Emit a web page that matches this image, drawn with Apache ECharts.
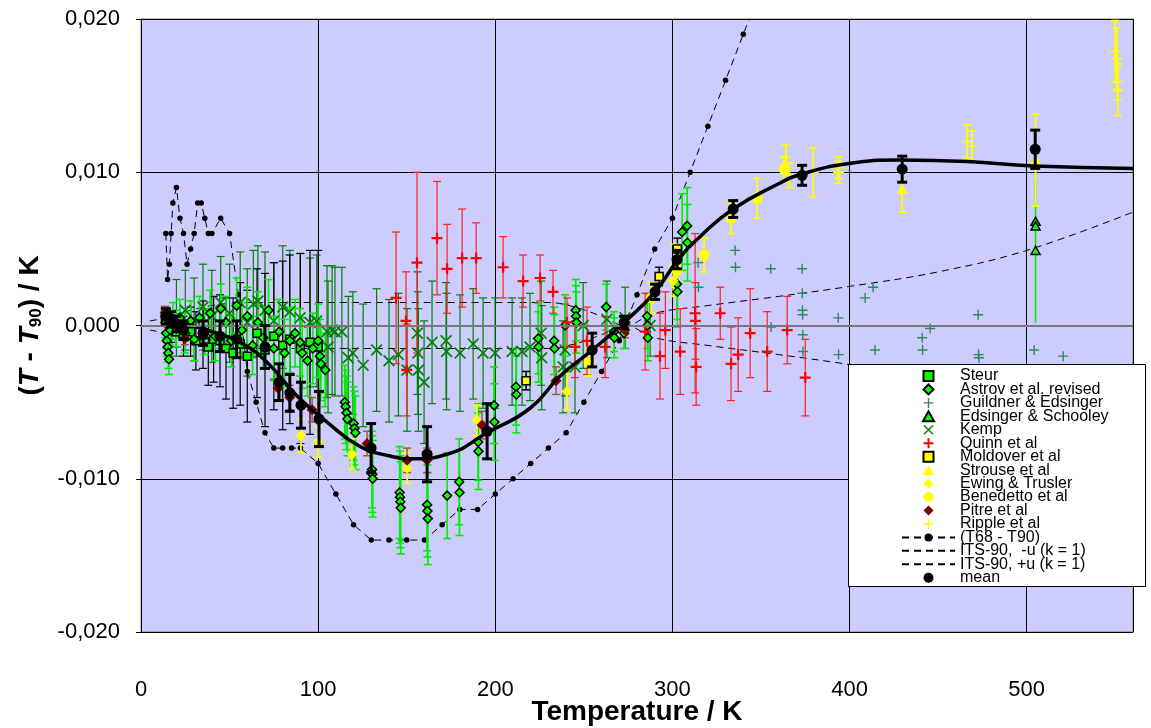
<!DOCTYPE html>
<html><head><meta charset="utf-8">
<script src="https://cdn.jsdelivr.net/npm/echarts@6/dist/echarts.min.js"></script>
<style>html,body{margin:0;padding:0;background:#fff}#c{width:1151px;height:728px}</style>
</head><body><div id="c"></div>
<script>
// values in mK ( (T - T90) * 1000 ), rows: [T / K, value, standard uncertainty]
const yTickLabels = ['-0,020', '-0,010', '0,000', '0,010', '0,020'];

const steur = [
  [13.8,0.6,0.6],[15,0.2,0.6],[17,-0.3,0.8],[20,-0.4,1.0],[24,-0.7,1.3],[28,-0.4,1.6],[31,-1.0,1.9],
  [35,-0.6,2.2],[38,-1.4,2.5],[41,-0.9,2.8],[44.6,-1.0,3.0],[48,-1.5,3.3],[52,-1.8,3.6],[56,-1.2,4.0],
  [60,-2.0,4.3],[65.5,-0.5,4.2],[70,-1.6,5.0],[75,-0.7,4.8],[80,-1.3,5.5],[84,-0.9,5.5],[90,-1.5,6.2],
  [95.4,-1.1,6.0],[100,-1.4,6.3]
];
const astrov = [
  [13.8,0.2,1.0],[14.2,-0.5,1.0],[14.6,-1.0,1.0],[15,-1.4,1.0],[15.4,-1.8,1.0],[15.8,-2.2,1.0],
  [16.5,-0.3,1.0],[18,0.3,1.2],[20,-0.2,1.2],[22,0.5,1.2],[25,-0.5,1.3],[28,0.3,1.3],[30,-0.9,1.4],
  [33,0.5,1.4],[36,-0.4,1.5],[39,0.8,1.5],[42,-0.7,1.6],[45,1.1,1.6],[48,0.2,1.7],[51,-1.0,1.7],
  [54,1.3,1.8],[57,-0.3,1.8],[60,0.6,1.9],[63,-1.3,1.9],[66,0.2,2.0],[69,-0.8,2.0],[72,1.0,2.0],
  [75,-1.5,2.1],[78,-0.4,2.1],[81,-1.8,2.2],[84,-1.0,2.2],[87,-0.5,2.2],[89.8,-1.1,2.2],[91,-1.8,2.3],
  [94,-2.3,2.3],[97,-1.5,2.3],[100,-1.0,2.4],[101,-2.0,2.4],[101.5,-2.5,2.4],[104,-2.9,2.4],
  [115,-5.0,2.4],[115.5,-5.3,2.4],[116,-5.7,2.4],[116.5,-6.1,2.4],[120,-6.4,2.4],[120.5,-6.7,2.4],
  [121,-7.0,2.4],[130.4,-9.4,2.5],[130.6,-9.7,2.5],[130.8,-10.0,2.5],[146,-10.9,3.0],[146.2,-11.2,3.0],
  [146.4,-11.5,3.0],[146.6,-11.9,3.0],[161.5,-11.7,3.0],[161.7,-12.1,3.0],[161.9,-12.6,3.0],
  [172.8,-11.1,2.8],[179.6,-10.2,2.8],[179.8,-10.9,2.8],[190.3,-7.6,2.5],[190.5,-8.2,2.5],
  [199.3,-5.2,2.5],[199.5,-6.3,2.5],[211.7,-4.0,2.5],[211.9,-4.5,2.5],[224.2,-0.85,2.3],[224.4,-1.4,2.3],
  [233.2,-1.0,2.2],[233.4,-1.5,2.2],[239.4,0,2.0],[245.4,1.0,2.0],[245.6,0.6,2.0],[245.8,0.2,2.0],
  [262.6,1.2,1.5],[267,-0.4,1.3],[267.2,-0.8,1.3],[272.7,-0.5,1.0],[285.7,0.6,1.5],[285.9,0,1.5],
  [286.1,-0.8,1.5],[302.6,2.7,2.3],[302.8,2.2,2.3],[305.5,6.1,2.5],[308.3,6.5,2.5],[308.5,5.4,2.5]
];
const guildner = [
  [314.5,4.1],[314.7,2.5],[335.4,4.9],[335.6,3.8],[355.5,3.7],[355.7,-0.1],[373.2,3.7],[373.3,2.1],
  [373.4,1.0],[373.5,0.7],[373.6,-0.6],[373.7,-1.7],[393.6,0.5],[393.8,-1.9],[408.8,1.8],[413.3,2.5],
  [414.4,-1.6],[441,-0.8],[441.2,-1.6],[445.5,-0.2],[472.6,0.7],[472.8,-1.9],[473,-2.1],[504.2,-1.6],
  [520.6,-2.0]
];
const edsinger = [[505,6.8,0],[505,6.5,0],[505,4.9,4.7]];
const kemp = [
  [20,0.5,2.5],[25,1.0,2.6],[30,0.4,2.7],[35,1.2,2.8],[40,0.6,3.0],[45,1.5,3.0],[50,0.8,3.2],[56,1.5,3.3],
  [60,0.2,3.5],[63.4,1.4,3.5],[66,1.6,3.6],[70,1.0,3.8],[75,0.3,3.8],[80,1.2,4.0],[84,0.9,4.0],
  [89.8,0.5,4.2],[95.4,0.2,4.2],[99.2,0.3,4.3],[105,-0.4,4.3],[105.6,-1.4,4.3],[107.9,-0.3,4.2],
  [109.5,-0.4,4.2],[113.4,-0.4,4.2],[117,-2.1,4.0],[119.6,-1.8,4.0],[125.4,-2.6,4.0],[133,-1.6,4.0],
  [140,-2.3,4.0],[145.3,-1.9,4.0],[150.2,-2.9,4.0],[156,-0.5,4.0],[156.3,-1.8,4.0],[156.6,-2.9,4.0],
  [159.8,-3.7,4.0],[164.3,-1.1,4.0],[172.2,-1.0,3.8],[172.5,-1.7,3.8],[180.1,-1.8,3.8],[187.5,-1.2,3.6],
  [193.1,-1.8,3.6],[199.9,-1.8,3.6],[209.5,-1.7,3.5],[215.1,-1.7,3.5],[219.6,-1.4,3.5],[225.9,-0.5,3.4],
  [226.2,-2.1,3.4],[238.3,-2.7,3.0],[239.4,-1.6,3.0],[245,-2.7,3.0],[249.6,0,2.8],[263,0.4,2.5],
  [273.3,0.5,2.0],[287.4,0,2.0]
];
const quinn = [
  [144,1.8,4.3],[149.6,0.3,3.2],[150,-2.9,3.0],[155.8,4.1,5.9],[167.1,5.7,3.7],[172.8,3.7,2.9],
  [181.3,4.4,3.2],[189.2,4.4,2.3],[204.4,3.8,2.0],[215.7,2.9,1.7],[225.3,3.1,1.5],[232.6,2.2,1.4],
  [240.5,0.2,1.6],[245,-1.4,2.0],[251.8,-1.0,2.2],[262,-1.4,2.0],[284.6,-0.4,2.5],[293,-2.0,2.8],
  [296,-0.3,2.5],[304.4,-1.7,2.8],[312.8,0.8,5.2],[313,0.3,2.5],[313.4,-2.7,2.5],[327,0.8,1.7],
  [333.1,-2.5,2.4],[337.1,-1.9,2.4],[343.9,-0.5,2.9],[353.5,-1.7,2.6],[364.8,-0.3,2.2],[375,-3.4,2.5]
];
const moldover = [[217.4,-3.6,0.6],[292.5,3.2,0.6],[302.8,5.0,0.7]];
const strouse = [[429.7,8.9,1.5],[505,10.8,3.0]];
const ewing = [[90.3,-7.2,1.1],[100,-7.6,1.0],[119,-8.4,1.0],[150.2,-9.3,1.0],[189.7,-6.2,1.0],[240.5,-4.3,1.2],[300.5,2.9,1.0]];
const benedetto = [[253,-2.4,0.9],[288,1.8,1.0],[302.6,3.6,0.8],[317.9,4.6,1.1],[333.1,7.0,1.0],[347.8,8.3,1.3],[363,10.2,0.8]];
const pitre = [
  [13.6,0.85,0.4],[16,0.5,0.4],[24.8,-0.85,0.4],[77.4,-4.1,0.8],[84,-4.7,0.8],[96.6,-5.5,0.8],
  [127.6,-7.7,0.8],[150.2,-8.8,0.8],[161.5,-8.8,0.8],[192.5,-6.5,0.9],[234.3,-3.6,0.9],[273.2,-0.3,0.5]
];
const ripple = [
  [301,3.9,1.4],[364,11.0,0.8],[366,9.8,0.8],[379.5,10.0,1.6],[393.6,10.3,0.7],[393.8,10.0,0.7],
  [466.4,12.0,1.1],[469.2,11.7,1.0],[550,17.9,2.0],[551,17.4,2.0],[551.2,15.9,1.2],[551.4,15.3,1.6]
];
const t68 = [
  [14,6],[15,3],[16,4],[17,6],[18,8],[20,9],[22,7],[24,6],[26,4],[28,5],[30,6],[32,8],[34,8],[36,7],
  [38,6],[40,6],[45,7],[50,6],[55,2],[60,-3],[65,-5],[70,-7],[75,-8],[80,-8],[85,-8],[90,-8],[100,-9],
  [110,-11],[120,-13],[130,-14],[140,-14],[150,-14],[160,-14],[170,-13],[180,-12],[190,-12],[200,-11],
  [210,-10],[220,-9],[230,-8],[240,-7],[250,-5],[260,-3],[270,-1],[273.16,0],[280,2],[290,5],[300,7],
  [310,10],[320,13],[330,16],[340,19],[350,22]
];
const itsMinusU = [
  [5,-0.3],[14,-0.5],[25,-0.9],[40,-1.3],[60,-1.5],[100,-1.5],[230,-1.5],[245,-1.2],[260,-0.6],[273.16,0],
  [290,-0.8],[320,-1.3],[360,-1.9],[400,-2.55],[450,-3.5],[500,-4.9],[560,-7.4]
];
const itsPlusU = [
  [5,0.3],[14,0.5],[25,0.9],[40,1.3],[60,1.5],[100,1.5],[230,1.5],[245,1.2],[260,0.6],[273.16,0],
  [290,0.8],[320,1.3],[360,1.9],[400,2.55],[450,3.5],[500,4.9],[560,7.4]
];
const mean = [
  [14,0.6,0.5],[17,0.4,0.5],[20,0.1,0.5],[24,-0.3,0.6],[35,-0.5,0.8],[44.6,-0.7,1.0],[54,-0.9,1.2],
  [70,-1.4,1.4],[77.9,-3.7,1.2],[84,-4.4,1.2],[90.3,-5.2,1.5],[100.5,-6.1,1.8],[129.9,-8.0,1.6],
  [161.5,-8.4,1.8],[195.4,-6.9,1.8],[254.7,-1.6,1.1],[272.7,0.2,0.4],[290.2,2.2,0.5],[302.6,4.3,0.6],
  [334.3,7.6,0.55],[373.2,9.8,0.65],[429.7,10.2,0.85],[504.8,11.5,1.25]
];
const meanFit = [
  [14,0.4],[25,0.1],[40,-0.4],[55.9,-1.1],[71.1,-2.4],[88.1,-4.6],[105,-6.3],[123.7,-7.9],[140,-8.5],
  [153.6,-8.7],[172.8,-8.4],[195.4,-7.0],[219.6,-5.4],[236.6,-3.3],[254.7,-1.6],[272.7,0.2],[290.2,2.2],
  [302.6,4.2],[315.6,5.8],[334.3,7.6],[360.8,9.3],[372,9.85],[398.6,10.55],[428.6,10.8],[466.4,10.7],
  [503.7,10.4],[560,10.25]
];

const FONT = 'Arial, "Liberation Sans", sans-serif';
const PLUS = 'path://M4,0H6V4H10V6H6V10H4V6H0V4H4Z';
const PLUS_THIN = 'path://M4.3,0H5.7V4.3H10V5.7H5.7V10H4.3V5.7H0V4.3H4.3Z';
const CROSS = 'path://M1,0L5,4L9,0L10,1L6,5L10,9L9,10L5,6L1,10L0,9L4,5L0,1Z';
const SQUARE = 'path://M0,0H10V10H0Z';
const DIAMOND = 'path://M5,0L10,5L5,10L0,5Z';
const TRIANGLE = 'path://M5,0L10,9H0Z';

function errSeries(name, rows, color, lw, cap, z) {
  return {
    type: 'custom', name: name + ' (u)', z: z, silent: true, clip: true,
    encode: { x: 0, y: [1, 2] },
    data: rows.filter(r => r[2] > 0).map(r => [r[0], r[1] - r[2], r[1] + r[2]]),
    renderItem: function (params, api) {
      const lo = api.coord([api.value(0), api.value(1)]);
      const hi = api.coord([api.value(0), api.value(2)]);
      const st = { stroke: color, lineWidth: lw };
      return { type: 'group', children: [
        { type: 'line', shape: { x1: lo[0], y1: lo[1], x2: hi[0], y2: hi[1] }, style: st },
        { type: 'line', shape: { x1: lo[0] - cap, y1: lo[1], x2: lo[0] + cap, y2: lo[1] }, style: st },
        { type: 'line', shape: { x1: hi[0] - cap, y1: hi[1], x2: hi[0] + cap, y2: hi[1] }, style: st }
      ]};
    }
  };
}
function pts(name, rows, symbol, size, fill, border, bw, z) {
  return {
    type: 'scatter', name: name, z: z, symbol: symbol, symbolSize: size, symbolKeepAspect: true,
    data: rows.map(r => [r[0], r[1]]),
    itemStyle: { color: fill, borderColor: border || fill, borderWidth: bw || 0, opacity: 1 },
    emphasis: { disabled: true }
  };
}

const series = [
  { type: 'line', name: 'ITS-90,  -u (k = 1)', data: itsMinusU, smooth: 0.4, symbol: 'none', z: 1,
    lineStyle: { color: '#000', width: 1, type: [7, 5] }, itemStyle: { color: 'rgba(0,0,0,0)' },
    markLine: { silent: true, symbol: 'none', label: { show: false },
      lineStyle: { color: '#777', width: 2, type: 'solid' }, data: [{ yAxis: 0 }] } },
  { type: 'line', name: 'ITS-90, +u (k = 1)', data: itsPlusU, smooth: 0.4, symbol: 'none', z: 1,
    lineStyle: { color: '#000', width: 1, type: [7, 5] }, itemStyle: { color: 'rgba(0,0,0,0)' } },
  { type: 'line', name: '(T68 - T90)', data: t68, symbol: 'circle', symbolSize: 5.5, showAllSymbol: true, z: 1,
    lineStyle: { color: '#000', width: 1, type: [7, 5] }, itemStyle: { color: '#000' } },

  errSeries('Kemp', kemp, '#008000', 1.2, 4, 2),
  errSeries('Steur', steur, '#000000', 1.2, 4, 2),
  errSeries('Astrov et al. revised', astrov, '#00ee00', 1.6, 4, 2),
  errSeries('Quinn et al', quinn, '#ff2020', 1.2, 4, 2),
  errSeries('Edsinger & Schooley', edsinger, '#00ee00', 1.6, 0, 2),
  errSeries('Moldover et al', moldover, '#000000', 1.5, 4, 2),
  errSeries('Strouse et al', strouse, '#ffff00', 1.8, 4, 2),
  errSeries('Ewing & Trusler', ewing, '#ffff00', 1.8, 4, 2),
  errSeries('Benedetto et al', benedetto, '#ffff00', 1.8, 4, 2),
  errSeries('Pitre et al', pitre, '#a0522d', 1.4, 4, 2),
  errSeries('Ripple et al', ripple, '#ffff00', 1.8, 4, 2),

  pts('Kemp', kemp, CROSS, 12, '#008000', null, 0, 3),
  pts('Guildner & Edsinger', guildner, PLUS_THIN, 10, '#2e8b57', null, 0, 3),
  pts('Steur', steur, SQUARE, 8, '#00ff00', '#000', 1.5, 3),
  pts('Astrov et al. revised', astrov, DIAMOND, 9, '#00ff00', '#000', 1.5, 3),
  pts('Quinn et al', quinn, PLUS, 11, '#ff0000', null, 0, 3),
  pts('Edsinger & Schooley', edsinger, TRIANGLE, 9, '#00ff00', '#000', 1.5, 3),
  pts('Moldover et al', moldover, SQUARE, 8, '#ffff00', '#000', 1.5, 3),
  pts('Strouse et al', strouse, TRIANGLE, 11, '#ffff00', null, 0, 3),
  pts('Ewing & Trusler', ewing, DIAMOND, 11, '#ffff00', null, 0, 3),
  pts('Benedetto et al', benedetto, 'circle', 11, '#ffff00', null, 0, 3),
  pts('Pitre et al', pitre, DIAMOND, 11, '#800000', null, 0, 3),
  pts('Ripple et al', ripple, PLUS_THIN, 11, '#ffff00', null, 0, 3),

  { type: 'line', name: 'mean fit', data: meanFit, smooth: 0.5, symbol: 'none', z: 4,
    lineStyle: { color: '#000', width: 3.5 }, itemStyle: { color: '#000' } },
  errSeries('mean', mean, '#000000', 3, 5, 5),
  pts('mean', mean, 'circle', 11, '#000000', null, 0, 5)
];

const chart = echarts.init(document.getElementById('c'), null, { renderer: 'canvas' });
chart.setOption({
  animation: false,
  backgroundColor: '#ffffff',
  textStyle: { fontFamily: FONT },
  grid: { left: 141, right: 18, top: 19, bottom: 96, show: true, backgroundColor: '#ccccff',
          borderColor: '#808080', borderWidth: 1, containLabel: false, outerBoundsMode: 'none' },
  xAxis: {
    type: 'value', min: 0, max: 560, interval: 100,
    name: 'Temperature / K', nameLocation: 'middle', nameGap: 66, nameMoveOverlap: false,
    nameTextStyle: { fontFamily: FONT, fontSize: 28, fontWeight: 'bold', color: '#000' },
    axisLine: { show: true, onZero: false, lineStyle: { color: '#000', width: 1 } },
    axisTick: { show: false },
    axisLabel: { fontFamily: FONT, fontSize: 22, color: '#000', margin: 47, showMaxLabel: false },
    splitLine: { show: true, lineStyle: { color: '#000', width: 1 } }
  },
  yAxis: {
    type: 'value', min: -20, max: 20, interval: 10,
    name: '{p|(}{i|T}{p| - }{i|T}{s|90}{p|) / K}', nameLocation: 'middle', nameGap: 96, nameRotate: 90,
    nameMoveOverlap: false,
    nameTextStyle: { fontFamily: FONT, fontSize: 28, fontWeight: 'bold', color: '#000',
      rich: {
        p: { fontFamily: FONT, fontSize: 28, fontWeight: 'bold', color: '#000' },
        i: { fontFamily: FONT, fontSize: 28, fontWeight: 'bold', fontStyle: 'italic', color: '#000' },
        s: { fontFamily: FONT, fontSize: 17, fontWeight: 'bold', color: '#000', padding: [12, 0, 0, 0] }
      } },
    axisLine: { show: true, onZero: false, lineStyle: { color: '#000', width: 1 } },
    axisTick: { show: true, inside: false, length: 5, lineStyle: { color: '#000' } },
    axisLabel: { fontFamily: FONT, fontSize: 22, color: '#000', margin: 21,
      formatter: v => yTickLabels[Math.round((v + 20) / 10)] },
    splitLine: { show: true, lineStyle: { color: '#000', width: 1 } }
  },
  legend: {
    orient: 'vertical', left: 901, top: 368, padding: 0, itemGap: -2.55, itemWidth: 53, itemHeight: 10,
    selectedMode: false, z: 12, symbolKeepAspect: true,
    textStyle: { fontFamily: FONT, fontSize: 16, color: '#000' },
    data: ['Steur', 'Astrov et al. revised', 'Guildner & Edsinger', 'Edsinger & Schooley', 'Kemp',
      'Quinn et al', 'Moldover et al', 'Strouse et al', 'Ewing & Trusler', 'Benedetto et al',
      'Pitre et al', 'Ripple et al', '(T68 - T90)', 'ITS-90,  -u (k = 1)', 'ITS-90, +u (k = 1)', 'mean']
  },
  graphic: [{ type: 'rect', left: 848, top: 364, z: 10, silent: true,
    shape: { width: 297, height: 222 }, style: { fill: '#ffffff', stroke: '#000', lineWidth: 1 } }],
  series: series
});
</script></body></html>
